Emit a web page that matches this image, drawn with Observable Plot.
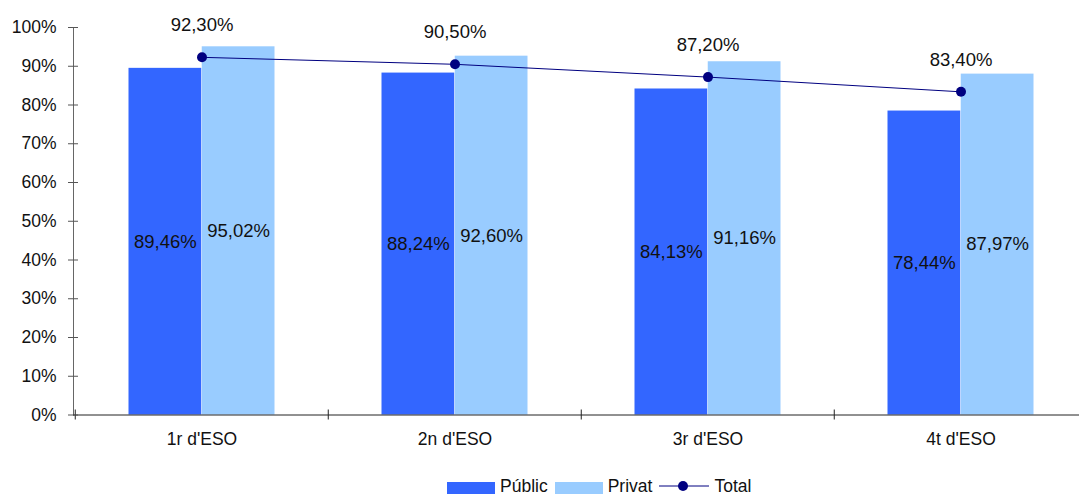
<!DOCTYPE html>
<html><head><meta charset="utf-8">
<script src="https://cdn.jsdelivr.net/npm/d3@7"></script>
<script src="https://cdn.jsdelivr.net/npm/@observablehq/plot@0.6"></script>
<style>
body{margin:0;background:#fff;font-family:"Liberation Sans",Arial,sans-serif;}
#wrap{position:relative;width:1079px;height:497px;overflow:hidden;background:#fff}
#legend{position:absolute;top:476px;left:447px;display:flex;align-items:center;font-size:17.5px;color:#111;line-height:20px;white-space:nowrap}
.sw{display:inline-block;width:48px;height:12px;margin-right:5px;position:relative;top:2px}
.lab{margin-right:7px}
svg{display:block}
</style></head><body><div id="wrap"></div><script>
const categories = ["1r d'ESO", "2n d'ESO", "3r d'ESO", "4t d'ESO"];
const publicValues = [89.46, 88.24, 84.13, 78.44];
const privatValues = [95.02, 92.60, 91.16, 87.97];
const totalValues = [92.30, 90.50, 87.20, 83.40];
const yTicks = [0, 10, 20, 30, 40, 50, 60, 70, 80, 90, 100];
const seriesNames = ["Públic", "Privat", "Total"];
const seriesColors = ["#3366FF", "#99CCFF", "#000080"];

const rows = categories.map((c, i) => ({cat: c, pub: publicValues[i], pri: privatValues[i], tot: totalValues[i]}));
const fmt = v => v.toFixed(2).replace(".", ",") + "%";

const W = 1079, H = 476;
const x0 = 73.5, x1 = 1087.5;
const half = (x1 - x0) / categories.length / 2;
const outer = 53.5;
const barHalfCenter = (half - outer) / 2;

const chart = Plot.plot({
  width: W, height: H,
  marginLeft: 73, marginRight: 0, marginTop: 27, marginBottom: H - 414.5,
  style: {fontFamily: "Liberation Sans, Arial, sans-serif", fontSize: "17px", color: "#111", background: "#fff"},
  x: {type: "band", domain: categories, range: [x0, x1], padding: 0, label: null},
  y: {domain: [0, 100], range: [414.5, 27], label: null},
  marks: [
    Plot.barY(rows, {x: "cat", y: "pub", fill: seriesColors[0], insetLeft: outer, insetRight: half}),
    Plot.barY(rows, {x: "cat", y: "pri", fill: seriesColors[1], insetLeft: half, insetRight: outer}),
    Plot.frame({anchor: "left", stroke: "#666"}),
    Plot.ruleY([0], {stroke: "#222"}),
    Plot.ruleX(categories, {x: d => d, y1: 0, y2: 0, dx: -half, insetTop: -5, insetBottom: -5, stroke: "#222"}),
    Plot.axisY({ticks: yTicks, tickFormat: d => d + "%", tickSize: 10, dx: 5, tickPadding: 12, stroke: "#555", fontSize: "17.5px", label: null}),
    Plot.axisX({tickSize: 0, tickPadding: 18, fontSize: "17.5px", label: null}),
    Plot.text(rows, {x: "cat", y: d => d.pub / 2, text: d => fmt(d.pub), dx: -half + outer + barHalfCenter, fontSize: 18.5, fill: "#111"}),
    Plot.text(rows, {x: "cat", y: d => d.pri / 2, text: d => fmt(d.pri), dx: barHalfCenter, fontSize: 18.5, fill: "#111"}),
    Plot.line(rows, {x: "cat", y: "tot", stroke: seriesColors[2], strokeWidth: 1}),
    Plot.dot(rows, {x: "cat", y: "tot", r: 5, fill: seriesColors[2]}),
    Plot.text(rows, {x: "cat", y: "tot", text: d => fmt(d.tot), dy: -32, fontSize: 18.5, fill: "#111"})
  ]
});
const wrap = document.getElementById("wrap");
wrap.appendChild(chart);

const legend = document.createElement("div");
legend.id = "legend";
legend.innerHTML =
  `<span class="sw" style="background:${seriesColors[0]}"></span><span class="lab">${seriesNames[0]}</span>` +
  `<span class="sw" style="background:${seriesColors[1]}"></span><span class="lab">${seriesNames[1]}</span>` +
  `<svg width="50" height="12" style="margin-right:5px;display:inline-block"><line x1="0" x2="50" y1="6" y2="6" stroke="${seriesColors[2]}" stroke-width="1"/><circle cx="24" cy="6" r="5" fill="${seriesColors[2]}"/></svg>` +
  `<span class="lab">${seriesNames[2]}</span>`;
wrap.appendChild(legend);
</script></body></html>
